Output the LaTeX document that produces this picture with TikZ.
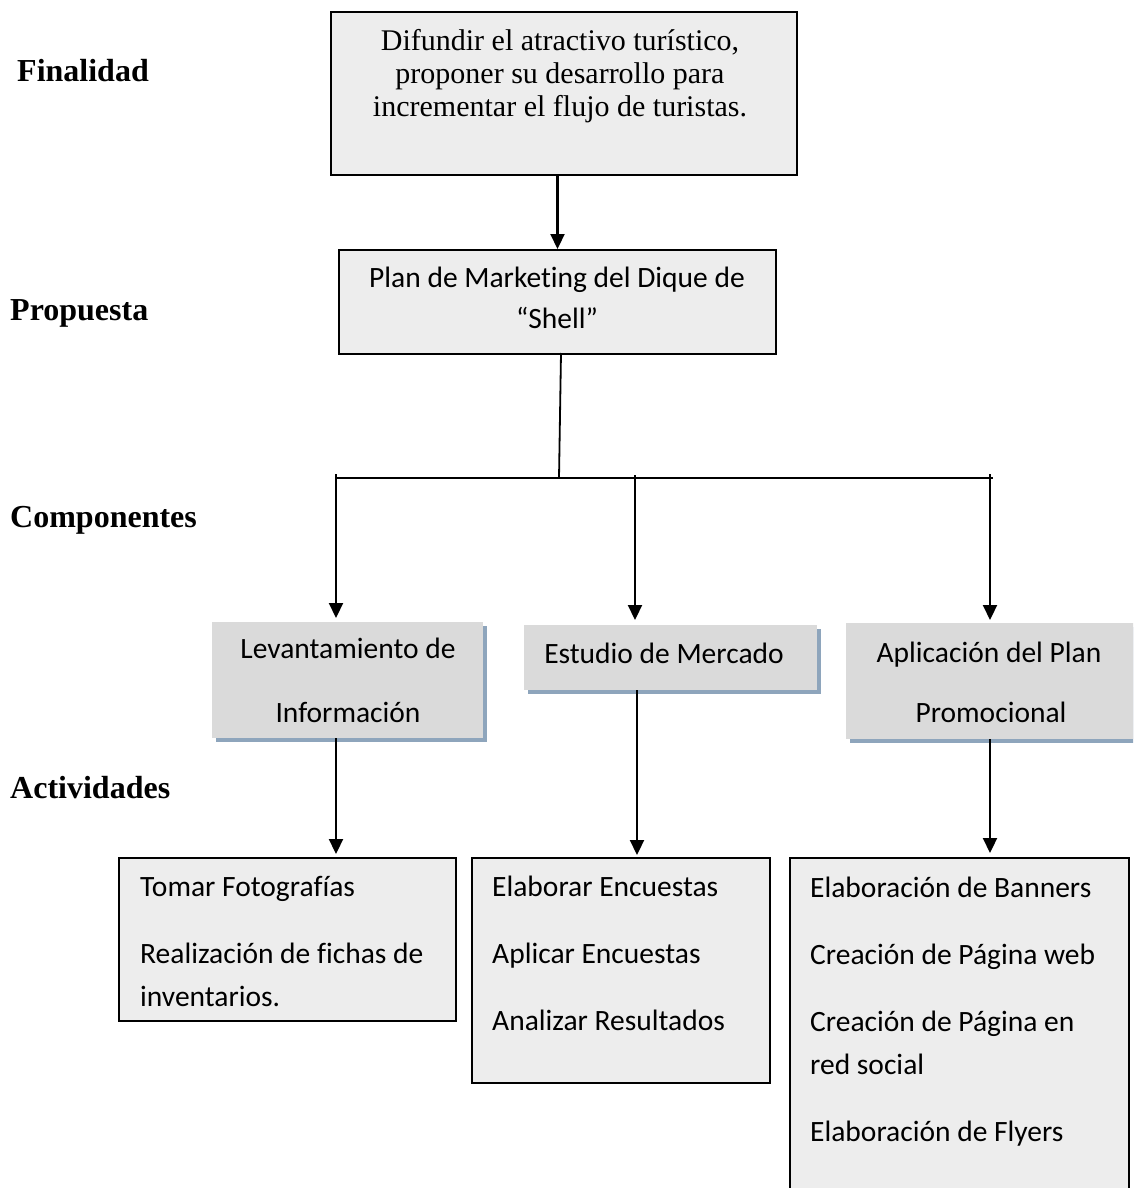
\documentclass[tikz,border=0pt]{standalone}
\usepackage{fontspec}
\setmainfont{Liberation Serif}
\newfontfamily\calfont[Ligatures=NoCommon]{Carlito}
\usetikzlibrary{arrows.meta}
\definecolor{boxgray}{HTML}{EDEDED}
\definecolor{compgray}{HTML}{DADADA}
\definecolor{shadowblue}{HTML}{8EA5BC}
\begin{document}
\begin{tikzpicture}[x=1pt,y=-1pt,
  box/.style={draw=black,line width=2pt,fill=boxgray,anchor=north west,inner sep=0},
  comp/.style={fill=compgray,anchor=north west,inner sep=0},
  shad/.style={fill=shadowblue,anchor=north west,inner sep=0},
  txt/.style={inner sep=0,anchor=base,font=\calfont\fontsize{29.5}{35}\selectfont},
  ltxt/.style={txt,anchor=base west},
  stxt/.style={inner sep=0,anchor=base,font=\fontsize{30}{36}\selectfont},
  lab/.style={inner sep=0,anchor=base west,font=\bfseries\fontsize{32}{38}\selectfont},
  arr/.style={line width=2.2pt,-{Triangle[width=14pt,length=15pt]}},
  ln/.style={line width=1.8pt}]
\useasboundingbox (0,0) rectangle (1133,1188);
\clip (0,0) rectangle (1133,1188);

% left labels
\node[lab] (lfin) at (17,82) {Finalidad};
\node[lab] (lpro) at (10,320) {Propuesta};
\node[lab] (lcom) at (10,527) {Componentes};
\node[lab] (lact) at (10,798) {Actividades};

% top box
\node[box,minimum width=466,minimum height=163] (fin) at (330,11) {};
\node[stxt] (fin1) at (560,51) {Difundir el atractivo turístico,};
\node[stxt] (fin2) at (560,84) {proponer su desarrollo para};
\node[stxt] (fin3) at (560,117) {incrementar el flujo de turistas.};

% plan box
\node[box,minimum width=437,minimum height=104] (plan) at (338,249) {};
\node[txt] (plan1) at (557,287) {Plan de Marketing del Dique de};
\node[txt] (plan2) at (557,328) {“Shell”};

% components
\node[shad,minimum width=271,minimum height=116] (levs) at (216,626) {};
\node[comp,minimum width=271,minimum height=116] (lev) at (212,622) {};
\node[txt] (lev1) at (348,658) {Levantamiento de};
\node[txt] (lev2) at (348,722) {Información};

\node[shad,minimum width=293,minimum height=65] (ests) at (528,629) {};
\node[comp,minimum width=293,minimum height=65] (est) at (524,625) {};
\node[txt] (est1) at (664,663) {Estudio de Mercado};

\node[shad,minimum width=300,minimum height=116] (apls) at (850,627) {};
\node[comp,minimum width=300,minimum height=116] (apl) at (846,623) {};
\node[txt] (apl1) at (989,662) {Aplicación del Plan};
\node[txt] (apl2) at (991,722) {Promocional};

% activities
\node[box,minimum width=337,minimum height=163] (act1) at (118,857) {};
\node[ltxt] (a11) at (140,896) {Tomar Fotografías};
\node[ltxt] (a12) at (140,963) {Realización de fichas de};
\node[ltxt] (a13) at (140,1006) {inventarios.};

\node[box,minimum width=298,minimum height=225] (act2) at (471,857) {};
\node[ltxt] (a21) at (492,896) {Elaborar Encuestas};
\node[ltxt] (a22) at (492,963) {Aplicar Encuestas};
\node[ltxt] (a23) at (492,1030) {Analizar Resultados};

\node[box,minimum width=339,minimum height=400] (act3) at (789,857) {};
\node[ltxt] (a31) at (810,897) {Elaboración de Banners};
\node[ltxt] (a32) at (810,964) {Creación de Página web};
\node[ltxt] (a33) at (810,1031) {Creación de Página en};
\node[ltxt] (a34) at (810,1074) {red social};
\node[ltxt] (a35) at (810,1141) {Elaboración de Flyers};

% connectors
\draw[arr] (fin.south -| plan.north) -- (plan.north);

\coordinate (pout) at (561,353);
\coordinate (busM) at (559,478);
\coordinate (busL) at (336,478);
\coordinate (busR) at (993,478);
\coordinate (b1) at (336,474);
\coordinate (b2) at (635,475);
\coordinate (b3) at (990,474);
\draw[ln] (pout) -- (busM);
\draw[ln] (busL) -- (busR);
\draw[arr,shorten >=4pt] (b1) -- (b1 |- lev.north);
\draw[arr,shorten >=5pt] (b2) -- (b2 |- est.north);
\draw[arr,shorten >=3pt] (b3) -- (b3 |- apl.north);

\coordinate (x1) at (336,0);
\coordinate (x2) at (637,0);
\coordinate (x3) at (990,0);
\draw[arr,shorten >=3pt] (lev.south -| x1) -- (act1.north -| x1);
\draw[arr,shorten >=2pt] (est.south -| x2) -- (act2.north -| x2);
\draw[arr,shorten >=4pt] (apl.south -| x3) -- (act3.north -| x3);
\end{tikzpicture}
\end{document}
